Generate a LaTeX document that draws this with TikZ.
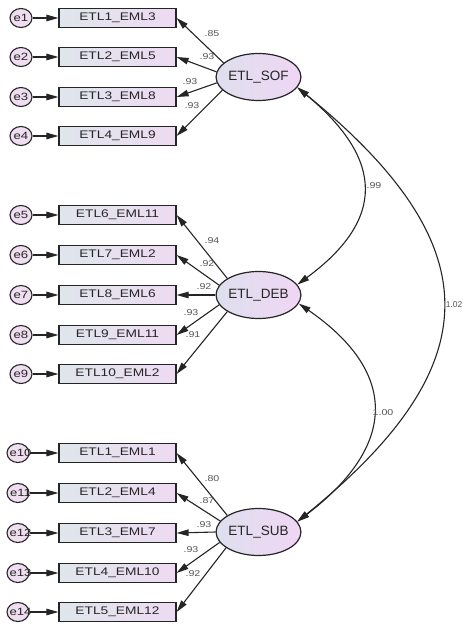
\documentclass[tikz,border=0pt]{standalone}
\usepackage{fontspec}
\setmainfont{Liberation Sans}
\newfontfamily\amos[FakeStretch=1.25]{Liberation Sans}
\newfontfamily\amosn{Liberation Sans}
\usetikzlibrary{shapes.geometric,arrows.meta}
\definecolor{boxL}{HTML}{DFE6EC}
\definecolor{boxR}{HTML}{EEDAF2}
\definecolor{ellL}{HTML}{DEDFEE}
\definecolor{ellR}{HTML}{F0D6F4}
\definecolor{errF}{HTML}{EFDDF0}
\definecolor{ink}{HTML}{252525}
\definecolor{lbl}{HTML}{555555}
\begin{document}
\begin{tikzpicture}[x=1pt,y=-1pt,
  obs/.style={draw=ink, line width=1.2pt, left color=boxL, right color=boxR,
    minimum width=117pt, minimum height=19pt, inner sep=0pt,
    font=\amos\fontsize{11}{11}\selectfont, text=ink},
  lat/.style={ellipse, draw=ink, line width=1.2pt, left color=ellL, right color=ellR,
    minimum width=81pt, minimum height=47pt, inner sep=0pt,
    font=\fontsize{13.5}{13.5}\selectfont, text=ink},
  err/.style={ellipse, draw=ink, line width=1.1pt, fill=errF,
    minimum width=22pt, minimum height=19pt, inner sep=0pt},
  errtxt/.style={font=\amos\fontsize{10.5}{10.5}\selectfont, text=ink, inner sep=0pt},
  ld/.style={font=\amos\fontsize{8.5}{8.5}\selectfont, text=lbl, inner sep=0pt},
  conn/.style={draw=ink, line width=1.1pt, -{Triangle[length=12pt,width=6.5pt]}},
  cov/.style={draw=ink, line width=1.1pt,
    {Triangle[length=12pt,width=6.5pt]}-{Triangle[length=12pt,width=6.5pt]}}
]
\useasboundingbox[fill=white] (0,0) rectangle (463,626);

% latent variables
\node[lat] (sof) at (258.5,77) {ETL\_SOF};
\node[lat] (deb) at (258.5,295) {ETL\_DEB};
\node[lat] (sub) at (258.5,532) {ETL\_SUB};

% observed variables, errors
\foreach \i/\y/\t/\ex/\tx in {
  1/18/ETL1\_EML3/21/21, 2/57/ETL2\_EML5/21/21, 3/97/ETL3\_EML8/21/21, 4/136/ETL4\_EML9/21/21,
  5/215/ETL6\_EML11/21/21, 6/255/ETL7\_EML2/21/21, 7/295/ETL8\_EML6/21/21,
  8/335/ETL9\_EML11/21/21, 9/374/ETL10\_EML2/21/21,
  10/453/ETL1\_EML1/18/20.5, 11/493/ETL2\_EML4/18/20.5, 12/533/ETL3\_EML7/18/20.5,
  13/573/ETL4\_EML10/18/20.5, 14/612/ETL5\_EML12/18/20.5}{
  \node[obs] (b\i) at (117.5,\y) {\t};
  \node[err] (e\i) at (\ex,\y) {};
  \node[errtxt] (t\i) at (\tx,\y) {e\i};
  \draw[conn] (e\i) -- (b\i);
}

% loadings
\foreach \i/\lv/\a/\lx/\ly/\v in {
  1/sof/158/212/33.5/.85, 2/sof/173/207/57/.93, 3/sof/188/190/82/.93, 4/sof/200/192/106/.93,
  5/deb/152/212/241/.94, 6/deb/166/207/264/.92, 7/deb/180/204/287/.92,
  8/deb/194/191/313/.93, 9/deb/208/193/335/.91,
  10/sub/152/212/479/.80, 11/sub/164/207/501/.87, 12/sub/180/204/525/.93,
  13/sub/195/191/550/.93, 14/sub/206/193/574/.92}{
  \draw[conn] (\lv.\a) -- (b\i.east);
  \node[ld] (l\i) at (\lx,\ly) {\v};
}

% covariances
\draw[cov] (sof.-15) .. controls (385,160) and (385,220) .. (deb.15);
\draw[cov] (deb.-12) .. controls (398,372) and (398,445) .. (sub.15);
\draw[cov] (sof.-15) .. controls (491,245) and (491,365) .. (sub.15);
\node[ld] (c1) at (374,186) {.99};
\node[ld] (c2) at (383,413) {1.00};
\node[font=\amosn\fontsize{8.5}{8.5}\selectfont, text=lbl, inner sep=0pt, anchor=east] (c3) at (462.5,305) {1.02};
\end{tikzpicture}
\end{document}
